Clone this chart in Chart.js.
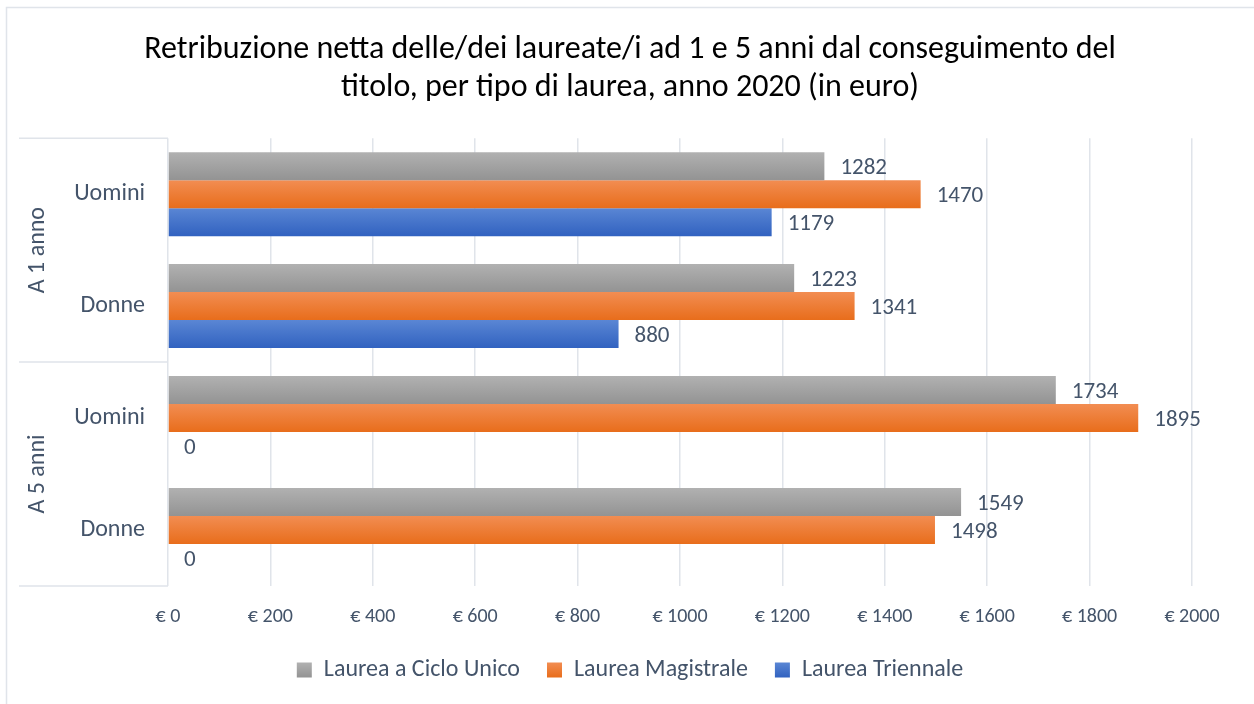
<!DOCTYPE html>
<html>
<head>
<meta charset="utf-8">
<script src="https://cdn.jsdelivr.net/npm/chart.js@4.4.0/dist/chart.umd.min.js"></script>
<style>
  html, body { margin: 0; padding: 0; background: #fff; }
  #wrap { width: 1254px; height: 704px; position: relative; }
</style>
</head>
<body>
<div id="wrap"><canvas id="salaryChart" width="1254" height="704"></canvas></div>
<script>
// data
const categories = ["Uomini", "Donne", "Uomini", "Donne"];
const groups = ["A 1 anno", "A 5 anni"];
const cicloUnico = [1282, 1223, 1734, 1549];
const magistrale = [1470, 1341, 1895, 1498];
const triennale = [1179, 880, 0, 0];
const seriesNames = ["Laurea a Ciclo Unico", "Laurea Magistrale", "Laurea Triennale"];
const xTicks = [0, 200, 400, 600, 800, 1000, 1200, 1400, 1600, 1800, 2000];

const FONT = "Calibri, Carlito, Lato, sans-serif";
const TEXT = "#44546a";
const GRID = "#e0e4ea";

// top / bottom colour of each bar gradient
const shades = [
  ["#b1b1b1", "#939393"],
  ["#f28d52", "#e86d1b"],
  ["#5a86d4", "#3162c0"]
];

function vGrad(c, i, top, h) {
  const g = c.createLinearGradient(0, top, 0, top + h);
  g.addColorStop(0, shades[i][0]);
  g.addColorStop(1, shades[i][1]);
  return g;
}

const gradientBars = {
  id: "gradientBars",
  beforeDatasetsDraw(chart) {
    const c = chart.ctx;
    chart.data.datasets.forEach((ds, i) => {
      chart.getDatasetMeta(i).data.forEach(bar => {
        bar.options.backgroundColor = vGrad(c, i, bar.y - bar.height / 2, bar.height);
      });
    });
  },
  afterDraw(chart) {
    // shade the legend swatches the same way
    const c = chart.ctx;
    const box = 15;
    (chart.legend.legendHitBoxes || []).forEach((hb, i) => {
      const top = hb.top + (hb.height - box) / 2;
      c.fillStyle = "#fff";
      c.fillRect(hb.left - 1, top - 1, box + 2, box + 2);
      c.fillStyle = vGrad(c, i, top, box);
      c.fillRect(hb.left, top, box, box);
    });
  }
};

const barLabels = {
  id: "barLabels",
  afterDatasetsDraw(chart) {
    const c = chart.ctx;
    c.save();
    c.font = "23px " + FONT;
    c.fillStyle = TEXT;
    c.textAlign = "left";
    c.textBaseline = "middle";
    chart.data.datasets.forEach((ds, i) => {
      chart.getDatasetMeta(i).data.forEach((bar, j) => {
        c.fillText(String(ds.data[j]), bar.x + 16, bar.y + 2);
      });
    });
    c.restore();
  }
};

// group labels, separators and the outer frame
const groupAxis = {
  id: "groupAxis",
  afterDraw(chart) {
    const c = chart.ctx;
    const area = chart.chartArea;
    const bandH = (area.bottom - area.top) / categories.length;
    c.save();
    c.strokeStyle = GRID;
    c.lineWidth = 1.5;
    c.strokeRect(6.5, 7.5, 1260, 710);
    c.beginPath();
    for (let k = 0; k <= groups.length; k++) {
      const yy = area.top + k * bandH * 2;
      c.moveTo(19, yy);
      c.lineTo(area.left, yy);
    }
    c.stroke();
    c.font = "24px " + FONT;
    c.fillStyle = TEXT;
    c.textAlign = "center";
    c.textBaseline = "middle";
    groups.forEach((g, k) => {
      const cy = area.top + (k * 2 + 1) * bandH;
      c.save();
      c.translate(38, cy);
      c.rotate(-Math.PI / 2);
      c.fillText(g, 0, 0);
      c.restore();
    });
    c.restore();
  }
};

new Chart(document.getElementById("salaryChart").getContext("2d"), {
  type: "bar",
  data: {
    labels: categories,
    datasets: [
      { label: seriesNames[0], data: cicloUnico },
      { label: seriesNames[1], data: magistrale },
      { label: seriesNames[2], data: triennale }
    ]
  },
  options: {
    indexAxis: "y",
    responsive: false,
    animation: false,
    categoryPercentage: 0.75,
    barPercentage: 1,
    backgroundColor: ctx => shades[ctx.datasetIndex][1],
    layout: { padding: { left: 68, right: 62, top: 0, bottom: 12 } },
    scales: {
      x: {
        min: 0,
        max: 2000,
        afterBuildTicks: s => { s.ticks = xTicks.map(v => ({ value: v })); },
        afterFit: s => { s.height = 45; },
        grid: { color: GRID, lineWidth: 1.5, drawTicks: false },
        border: { display: false },
        ticks: {
          padding: 19,
          color: TEXT,
          font: { family: FONT, size: 20 },
          callback: v => "€ " + v
        }
      },
      y: {
        afterFit: s => { s.width = 100; },
        grid: { display: false, drawTicks: false },
        border: { display: false },
        ticks: { padding: 23, color: TEXT, font: { family: FONT, size: 24 } }
      }
    },
    plugins: {
      title: {
        display: true,
        text: [
          "Retribuzione netta delle/dei laureate/i ad 1 e 5 anni dal conseguimento del",
          "titolo, per tipo di laurea, anno 2020 (in euro)"
        ],
        color: "#000",
        font: { family: FONT, size: 32, weight: "normal", lineHeight: 1.19 },
        padding: { top: 31, bottom: 31 }
      },
      legend: {
        position: "bottom",
        labels: {
          color: TEXT,
          font: { family: FONT, size: 24 },
          boxWidth: 15,
          boxHeight: 15,
          padding: 27
        }
      },
      tooltip: { enabled: false }
    }
  },
  plugins: [gradientBars, barLabels, groupAxis]
});
</script>
</body>
</html>
